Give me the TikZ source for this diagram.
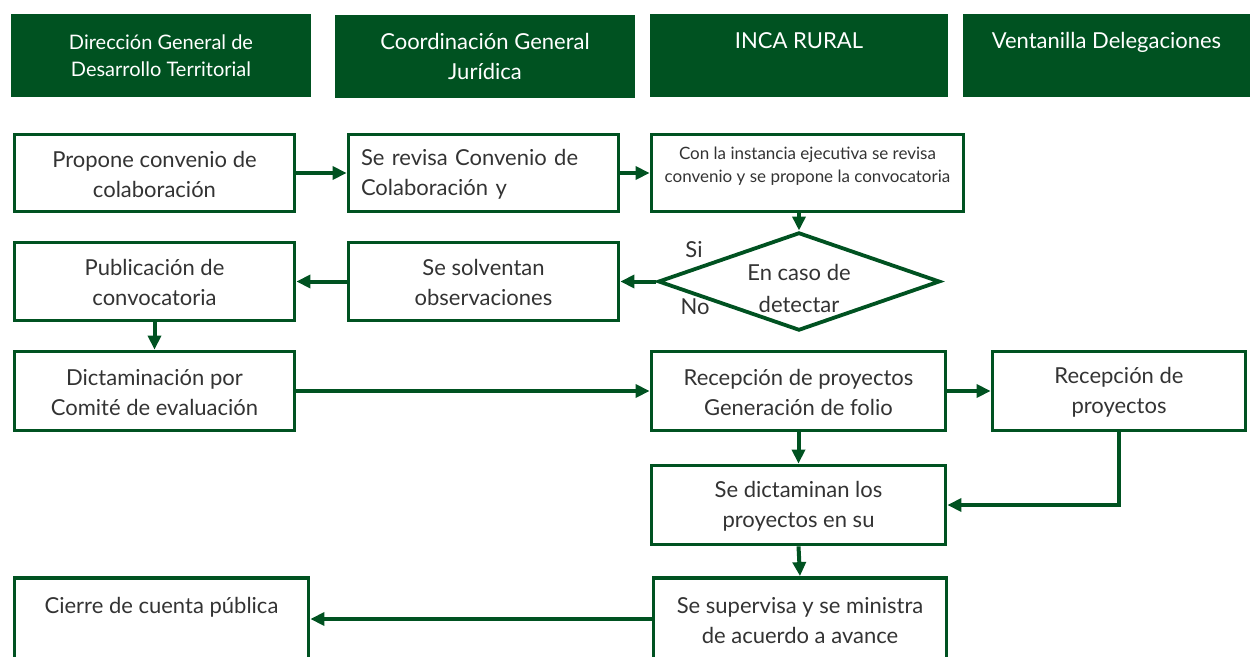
\documentclass[tikz,border=0pt]{standalone}
\usepackage{fontspec}
\setmainfont{Lato}
\usetikzlibrary{shapes.geometric, arrows.meta, positioning}
\definecolor{verde}{RGB}{0,82,33}

\begin{document}
\begin{tikzpicture}[
  x=1pt, y=-1pt,
  >={Triangle[length=14pt,width=13pt]},
  font=\fontsize{22}{30}\selectfont,
  head/.style={fill=verde, text=white, align=center, inner sep=0pt, minimum height=83pt},
  box/.style={draw=verde, line width=3.8pt, align=center, inner sep=0pt, text=black!80},
  decision/.style={diamond, draw=verde, line width=3.8pt, align=center, inner sep=0pt, aspect=2.87, text=black!80},
  flow/.style={->, draw=verde, line width=4pt},
  tag/.style={text=black!80}
]
\useasboundingbox (0,0) rectangle (1250,656);

% HEADERS
\node[head, minimum width=300pt, font=\fontsize{20}{27}\selectfont] (dgdt) at (161,55.5) {Dirección General de\\Desarrollo Territorial};
\node[head, minimum width=300pt] (cgj) at (485,56.5) {Coordinación General\\Jurídica};
\node[head, minimum width=298pt] (inca) at (799,55.5) {INCA RURAL\\\mbox{}};
\node[head, minimum width=287pt] (vent) at (1106.5,55.5) {Ventanilla Delegaciones\\\mbox{}};

% ROW 1
\node[box, minimum width=280pt, minimum height=77pt] (propone) at (154.5,173) {\rule{0pt}{19pt}Propone convenio de\\colaboración};
\node[box, minimum width=270pt, minimum height=77pt, text width=245pt, align=left] (revisa) at (483.5,173) {\rule{0pt}{19pt}Se revisa Convenio de\\Colaboración y};
\node[box, minimum width=312pt, minimum height=77pt, font=\fontsize{17}{23}\selectfont] (instancia) at (807.5,173) {Con la instancia ejecutiva se revisa\\convenio y se propone la convocatoria\\[-6pt]\mbox{}};
\draw[flow] (propone) -- (revisa);
\draw[flow] (revisa) -- (instancia);

% ROW 2
\node[box, minimum width=280pt, minimum height=78pt] (publicacion) at (154.5,281.5) {\rule{0pt}{19pt}Publicación de\\convocatoria};
\node[box, minimum width=270pt, minimum height=78pt] (solventan) at (483.5,281.5) {\rule{0pt}{19pt}Se solventan\\observaciones};
\node[decision, minimum width=278pt, minimum height=97pt] (caso) at (799,281.5) {\rule{0pt}{30pt}En caso de\\[2pt]detectar};
\node[tag] (si) at (694,250) {Si};
\node[tag] (no) at (695,307) {No};
\draw[flow] (caso.north |- instancia.south) -- (caso.north);
\draw[flow] (caso) -- (solventan);
\draw[flow] (solventan) -- (publicacion);

% ROW 3
\node[box, minimum width=280pt, minimum height=79pt] (dictaminacion) at (154.5,391) {\rule{0pt}{19pt}Dictaminación por\\Comité de evaluación};
\node[box, minimum width=294pt, minimum height=79pt] (recepcion) at (798.5,391) {\rule{0pt}{19pt}Recepción de proyectos\\Generación de folio};
\node[box, minimum width=253pt, minimum height=79pt] (recepcionv) at (1119,391) {\rule{0pt}{19pt}Recepción de\\proyectos};
\draw[flow] (publicacion) -- (dictaminacion);
\draw[flow] (dictaminacion) -- (recepcion);
\draw[flow] (recepcion) -- (recepcionv);

% ROW 4
\node[box, minimum width=294pt, minimum height=79pt] (dictaminan) at (798.5,505) {\rule{0pt}{19pt}Se dictaminan los\\proyectos en su};
\draw[flow] (recepcion) -- (dictaminan);
\draw[flow] (recepcionv.south) |- (dictaminan.east);

% ROW 5
\node[box, minimum width=293pt, minimum height=82pt] (supervisa) at (800,619) {\rule{0pt}{19pt}Se supervisa y se ministra\\de acuerdo a avance};
\node[box, minimum width=294pt, minimum height=82pt] (cierre) at (161.5,619) {\rule{0pt}{19pt}Cierre de cuenta pública\\\mbox{}};
\draw[flow] (dictaminan.south) -- (supervisa.north);
\draw[flow] (supervisa) -- (cierre);

\end{tikzpicture}
\end{document}
